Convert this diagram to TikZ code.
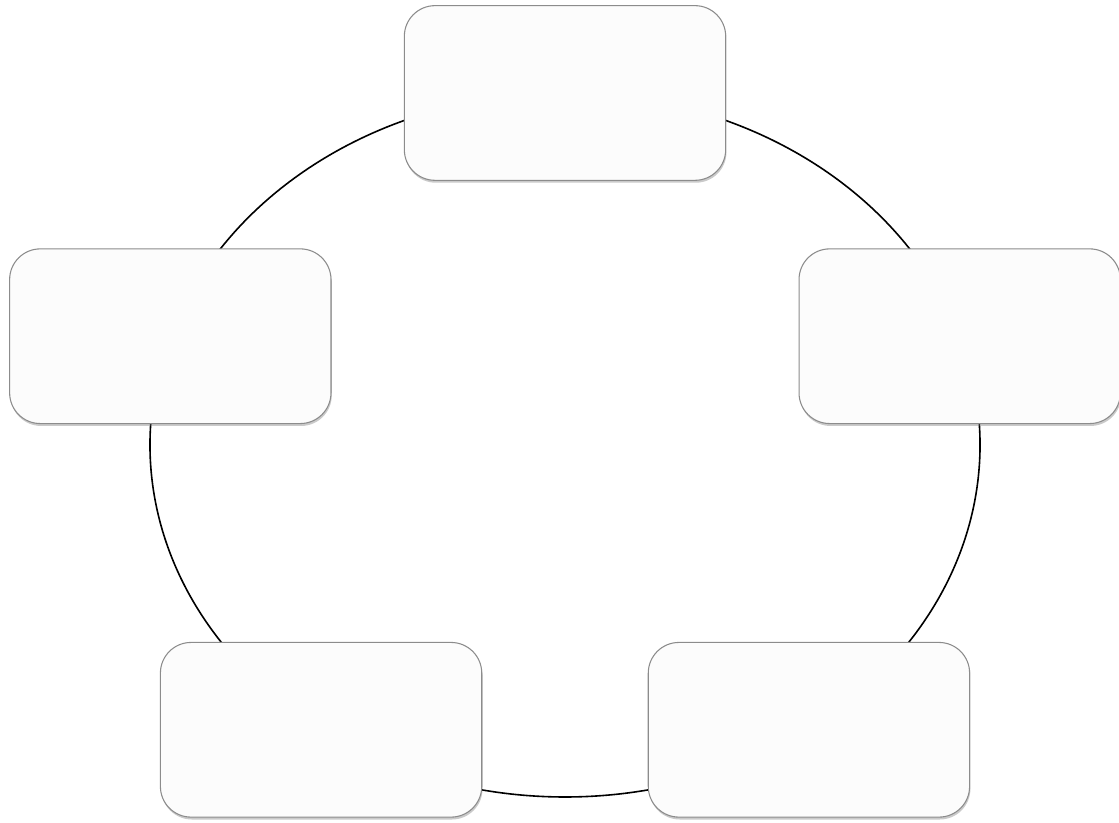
\documentclass[tikz,border=0pt]{standalone}
\usetikzlibrary{shadows,calc}
\pgfdeclarelayer{background}
\pgfsetlayers{background,main}
\begin{document}
\begin{tikzpicture}[x=0.75pt,y=0.75pt,
  cyclebox/.style={draw=black!45, line width=0.8pt, fill=white!99!black,
    rounded corners=23pt, minimum width=241pt, minimum height=131pt,
    inner sep=0pt,
    drop shadow={shadow xshift=0.6pt, shadow yshift=-1.8pt, opacity=0.35, fill=black!60}},
  ring/.style={draw=black, line width=1.2pt}]
\useasboundingbox (0,0) rectangle (1119,823);
\coordinate (c) at (565,378);
\node[cyclebox] (n1) at ($(c)+(90:415 and 352)$) {};
\node[cyclebox] (n2) at ($(c)+(162:415 and 352)$) {};
\node[cyclebox] (n3) at ($(c)+(234:415 and 352)$) {};
\node[cyclebox] (n4) at ($(c)+(306:415 and 352)$) {};
\node[cyclebox] (n5) at ($(c)+(18:415 and 352)$) {};
\begin{pgfonlayer}{background}
\draw[ring] (n1.center) arc[start angle=90, end angle=162, x radius=415, y radius=352];
\draw[ring] (n2.center) arc[start angle=162, end angle=234, x radius=415, y radius=352];
\draw[ring] (n3.center) arc[start angle=234, end angle=306, x radius=415, y radius=352];
\draw[ring] (n4.center) arc[start angle=306, end angle=378, x radius=415, y radius=352];
\draw[ring] (n5.center) arc[start angle=18, end angle=90, x radius=415, y radius=352];
\end{pgfonlayer}
\end{tikzpicture}
\end{document}
